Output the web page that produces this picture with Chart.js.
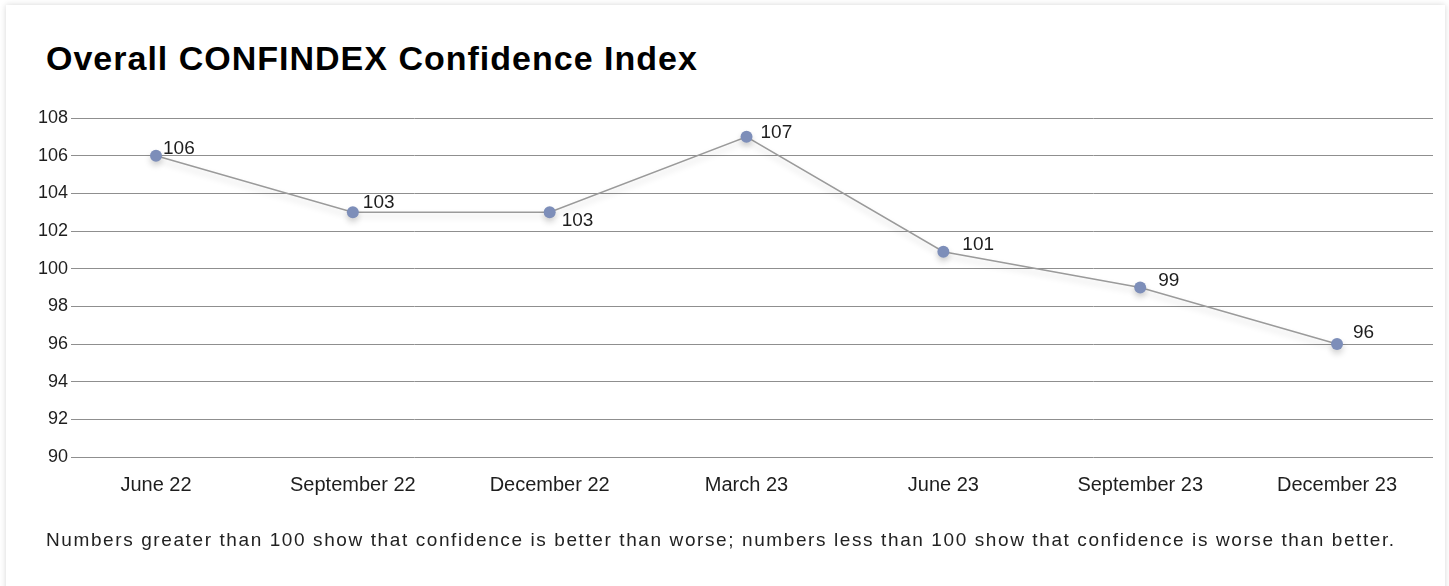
<!DOCTYPE html>
<html>
<head>
<meta charset="utf-8">
<script src="https://cdn.jsdelivr.net/npm/chart.js@4.4.1/dist/chart.umd.min.js"></script>
<style>
  html, body { margin: 0; padding: 0; background: #ffffff; width: 1449px; height: 586px; overflow: hidden; }
  .card { position: absolute; left: 6px; top: 5px; width: 1439px; height: 620px; background: #fff; box-shadow: 0 0 6px rgba(0,0,0,0.16); }
  .title { position: absolute; left: 46px; top: 41px; margin: 0; font-family: "Liberation Sans", Arial, Helvetica, sans-serif; font-weight: bold; font-size: 34px; line-height: 1; letter-spacing: 1px; color: #000; white-space: nowrap; }
  .note { position: absolute; left: 46px; top: 530px; margin: 0; font-family: "Liberation Sans", Arial, Helvetica, sans-serif; font-size: 19px; line-height: 1; letter-spacing: 1.6px; color: #222; white-space: nowrap; }
  .wrap { position: absolute; left: 0; top: 0; width: 1449px; height: 586px; }
</style>
</head>
<body>
<div class="card"></div>
<h1 class="title">Overall CONFINDEX Confidence Index</h1>
<div class="wrap"><canvas id="c"></canvas></div>
<p class="note">Numbers greater than 100 show that confidence is better than worse; numbers less than 100 show that confidence is worse than better.</p>
<script>
const categories = ['June 22', 'September 22', 'December 22', 'March 23', 'June 23', 'September 23', 'December 23'];
const confidenceIndex = [106, 103, 103, 107, 100.9, 99, 96];
const yMin = 90;
const yMax = 108;
const yStep = 2;

const FONT = '"Liberation Sans", Arial, Helvetica, sans-serif';

const lineShadow = {
  id: 'lineShadow',
  beforeDatasetDraw(chart) {
    const ctx = chart.ctx;
    ctx.save();
    ctx.shadowColor = 'rgba(0,0,0,0.18)';
    ctx.shadowBlur = 6;
    ctx.shadowOffsetX = 0;
    ctx.shadowOffsetY = 4;
  },
  afterDatasetDraw(chart) {
    chart.ctx.restore();
  }
};

const pointLabels = {
  id: 'pointLabels',
  afterDatasetsDraw(chart, args, opts) {
    const ctx = chart.ctx;
    const meta = chart.getDatasetMeta(0);
    const data = chart.data.datasets[0].data;
    ctx.save();
    ctx.font = opts.font;
    ctx.fillStyle = opts.color;
    ctx.textAlign = 'left';
    ctx.textBaseline = 'alphabetic';
    meta.data.forEach((pt, i) => {
      const off = opts.offsets[i] || [8, -3];
      ctx.fillText(String(Math.round(data[i].y)), pt.x + off[0], pt.y + off[1]);
    });
    ctx.restore();
  }
};

new Chart(document.getElementById('c'), {
  type: 'line',
  data: {
    datasets: [{
      data: confidenceIndex.map((v, i) => ({ x: i, y: v })),
      borderColor: '#9a9a9a',
      borderWidth: 1.5,
      pointRadius: 6,
      pointHoverRadius: 6,
      pointBackgroundColor: '#7d8eb9',
      pointBorderColor: '#7d8eb9',
      pointBorderWidth: 0,
      tension: 0,
      fill: false
    }]
  },
  options: {
    responsive: true,
    maintainAspectRatio: false,
    animation: false,
    events: [],
    layout: { padding: { top: 118, right: 16, bottom: 69, left: 0 } },
    plugins: {
      legend: { display: false },
      title: { display: false },
      tooltip: { enabled: false },
      pointLabels: {
        font: '19px ' + FONT,
        color: '#1e1e1e',
        offsets: [[7, -2], [10, -4], [12, 14], [14, 1], [19, -2], [18, -2], [16, -6]]
      }
    },
    scales: {
      x: {
        type: 'linear',
        min: -0.4115,
        max: 6.4875,
        grid: { display: false },
        border: { display: false },
        afterBuildTicks(scale) { scale.ticks = categories.map((c, i) => ({ value: i })); },
        afterFit(scale) { scale.height = 60; },
        ticks: {
          autoSkip: false,
          maxRotation: 0,
          padding: 8,
          color: '#1e1e1e',
          font: { family: FONT, size: 20 },
          callback: (v) => categories[v]
        }
      },
      y: {
        min: yMin,
        max: yMax,
        border: { display: false },
        grid: { color: '#8f8f8f', lineWidth: 1, tickLength: 4, drawTicks: true },
        afterFit(scale) { scale.width = 75; },
        ticks: {
          stepSize: yStep,
          padding: 3,
          color: '#1e1e1e',
          font: { family: FONT, size: 18 }
        }
      }
    }
  },
  plugins: [lineShadow, pointLabels]
});
</script>
</body>
</html>
